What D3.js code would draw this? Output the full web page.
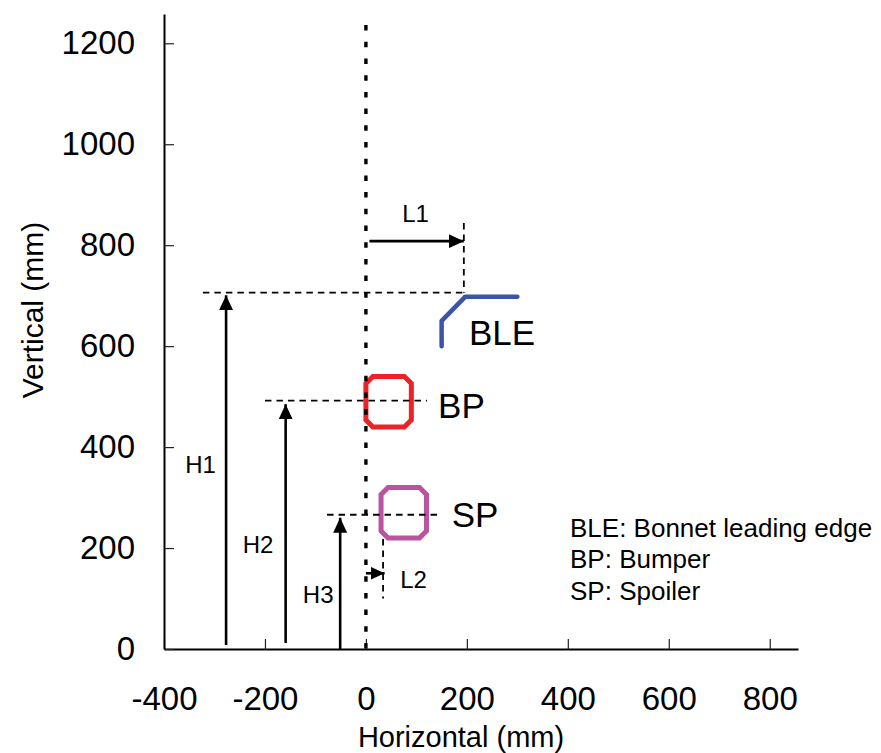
<!DOCTYPE html>
<html>
<head>
<meta charset="utf-8">
<script src="https://cdn.jsdelivr.net/npm/d3@7"></script>
<style>
  body { margin: 0; background: #fff; }
  svg { display: block; font-family: "Liberation Sans", Arial, sans-serif; }
</style>
</head>
<body>
<svg id="chart" width="881" height="753"></svg>
<script>
// ---------- data ----------
const xTicks = [-400, -200, 0, 200, 400, 600, 800];
const yTicks = [0, 200, 400, 600, 800, 1000, 1200];
const xDomain = [-400, 856];
const yDomain = [0, 1258];

// Bonnet leading edge profile
const bleX = [150, 150, 197, 300];
const bleY = [600, 650, 698, 698];

// Bumper and spoiler outlines (x0, x1, y0, y1 in mm)
const bpBox = [0, 90, 440, 540];
const spBox = [30, 120, 220, 320];

// heights H1..H3
const hNames = ["H1", "H2", "H3"];
const hX = [-277, -159, -51];
const hBase = [8, 12, 0];
const hTop = [701, 485, 260];
const hLevel = [706, 492, 266];
const hLevelFrom = [-323, -200, -77];
const hLevelTo = [197, 121, 147];
const hLabelX = [-358, -244, -125];
const hLabelY = [349, 190, 92];

// lengths L1, L2
const lNames = ["L1", "L2"];
const lY = [808, 150];
const lFrom = [7, 0];
const lTo = [194, 37];
const lGuideX = [194, 34];
const lGuideTop = [844, 218];
const lGuideBottom = [706, 100];
const lLabelX = [72, 68];
const lLabelY = [846, 121];

// component labels
const compNames = ["BLE", "BP", "SP"];
const compLabelX = [204, 143, 170];
const compLabelY = [602, 458, 242];

// reference line x = 0
const refTop = 1236;

// legend
const legendLines = ["BLE: Bonnet leading edge", "BP: Bumper", "SP: Spoiler"];

// ---------- drawing ----------
const svg = d3.select("#chart");
svg.append("rect").attr("width", 881).attr("height", 753).attr("fill", "#fff");

const x = d3.scaleLinear().domain(xDomain).range([164, 798]);
const y = d3.scaleLinear().domain(yDomain).range([649, 14]);

const defs = svg.append("defs");
defs.append("marker")
  .attr("id", "arrow")
  .attr("markerUnits", "userSpaceOnUse")
  .attr("markerWidth", 16).attr("markerHeight", 14)
  .attr("refX", 15).attr("refY", 7)
  .attr("orient", "auto")
  .append("path").attr("d", "M0,0 L15,7 L0,14 Z").attr("fill", "#000");
defs.append("marker")
  .attr("id", "arrowS")
  .attr("markerUnits", "userSpaceOnUse")
  .attr("markerWidth", 15).attr("markerHeight", 13)
  .attr("refX", 14).attr("refY", 6.5)
  .attr("orient", "auto")
  .append("path").attr("d", "M0,0 L14,6.5 L0,13 Z").attr("fill", "#000");

// axes
const fmt = d => String(d);
const xAxis = d3.axisBottom(x).tickValues(xTicks).tickFormat(fmt).tickSizeInner(-10).tickSizeOuter(0).tickPadding(38);
const yAxis = d3.axisLeft(y).tickValues(yTicks).tickFormat(fmt).tickSizeInner(-10).tickSizeOuter(0).tickPadding(29);

const gx = svg.append("g").attr("transform", `translate(0,${y(0)})`).call(xAxis);
const gy = svg.append("g").attr("transform", `translate(${x(-400)},0)`).call(yAxis);
[gx, gy].forEach(g => {
  g.select(".domain").attr("stroke", "#000").attr("stroke-width", 2);
  g.selectAll(".tick line").attr("stroke", "#222").attr("stroke-width", 1.2);
  g.selectAll(".tick text").attr("font-size", 33).attr("fill", "#000")
    .attr("font-family", "'Liberation Sans', Arial, sans-serif");
});

// axis titles
svg.append("text").attr("x", 461).attr("y", 746.5).attr("text-anchor", "middle")
  .attr("font-size", 29).attr("fill", "#000").text("Horizontal (mm)");
svg.append("text").attr("transform", `translate(43,310) rotate(-90)`).attr("text-anchor", "middle")
  .attr("font-size", 30).attr("fill", "#000").text("Vertical (mm)");

// boxes
function octagon(b, c) {
  const x0 = x(b[0]), x1 = x(b[1]), y0 = y(b[3]), y1 = y(b[2]);
  return `M${x0 + c},${y0} L${x1 - c},${y0} L${x1},${y0 + c} L${x1},${y1 - c} L${x1 - c},${y1} L${x0 + c},${y1} L${x0},${y1 - c} L${x0},${y0 + c} Z`;
}
svg.append("path").attr("d", octagon(bpBox, 7)).attr("fill", "none")
  .attr("stroke", "#ec2227").attr("stroke-width", 5);
svg.append("path").attr("d", octagon(spBox, 7)).attr("fill", "none")
  .attr("stroke", "#b854a1").attr("stroke-width", 5);

// BLE profile
const line = d3.line().x(d => x(d[0])).y(d => y(d[1]));
svg.append("path").attr("d", line(bleX.map((v, i) => [v, bleY[i]])))
  .attr("fill", "none").attr("stroke", "#3b54a5").attr("stroke-width", 4.5)
  .attr("stroke-linecap", "round").attr("stroke-linejoin", "round");

// dotted reference line x = 0
svg.append("line").attr("x1", x(0)).attr("x2", x(0)).attr("y1", y(refTop)).attr("y2", y(0))
  .attr("stroke", "#000").attr("stroke-width", 3.4).attr("stroke-dasharray", "5.5,11.2");

// dashed height levels
hLevel.forEach((v, i) => {
  svg.append("line").attr("x1", x(hLevelFrom[i])).attr("x2", x(hLevelTo[i]))
    .attr("y1", y(v)).attr("y2", y(v))
    .attr("stroke", "#000").attr("stroke-width", 1.8).attr("stroke-dasharray", "6.5,5");
});
// dashed length guides
lGuideX.forEach((v, i) => {
  svg.append("line").attr("x1", x(v)).attr("x2", x(v))
    .attr("y1", y(lGuideTop[i])).attr("y2", y(lGuideBottom[i]))
    .attr("stroke", "#000").attr("stroke-width", 1.8).attr("stroke-dasharray", "6.5,5");
});

// height arrows
hX.forEach((v, i) => {
  svg.append("line").attr("x1", x(v)).attr("x2", x(v))
    .attr("y1", y(hBase[i])).attr("y2", y(hTop[i]))
    .attr("stroke", "#000").attr("stroke-width", 2.6).attr("marker-end", "url(#arrow)");
  svg.append("text").attr("x", x(hLabelX[i])).attr("y", y(hLabelY[i]))
    .attr("font-size", 24).attr("fill", "#000").text(hNames[i]);
});

// length arrows
lY.forEach((v, i) => {
  svg.append("line").attr("x1", x(lFrom[i])).attr("x2", x(lTo[i]))
    .attr("y1", y(v)).attr("y2", y(v))
    .attr("stroke", "#000").attr("stroke-width", 2.6)
    .attr("marker-end", i === 0 ? "url(#arrow)" : "url(#arrowS)");
  svg.append("text").attr("x", x(lLabelX[i])).attr("y", y(lLabelY[i]))
    .attr("font-size", 24).attr("fill", "#000").text(lNames[i]);
});

// component labels
compNames.forEach((n, i) => {
  svg.append("text").attr("x", x(compLabelX[i])).attr("y", y(compLabelY[i]))
    .attr("font-size", 35).attr("fill", "#000").text(n);
});

// legend
legendLines.forEach((t, i) => {
  svg.append("text").attr("x", 570).attr("y", 536.5 + i * 31.7)
    .attr("font-size", 26).attr("fill", "#000").text(t);
});
</script>
</body>
</html>
